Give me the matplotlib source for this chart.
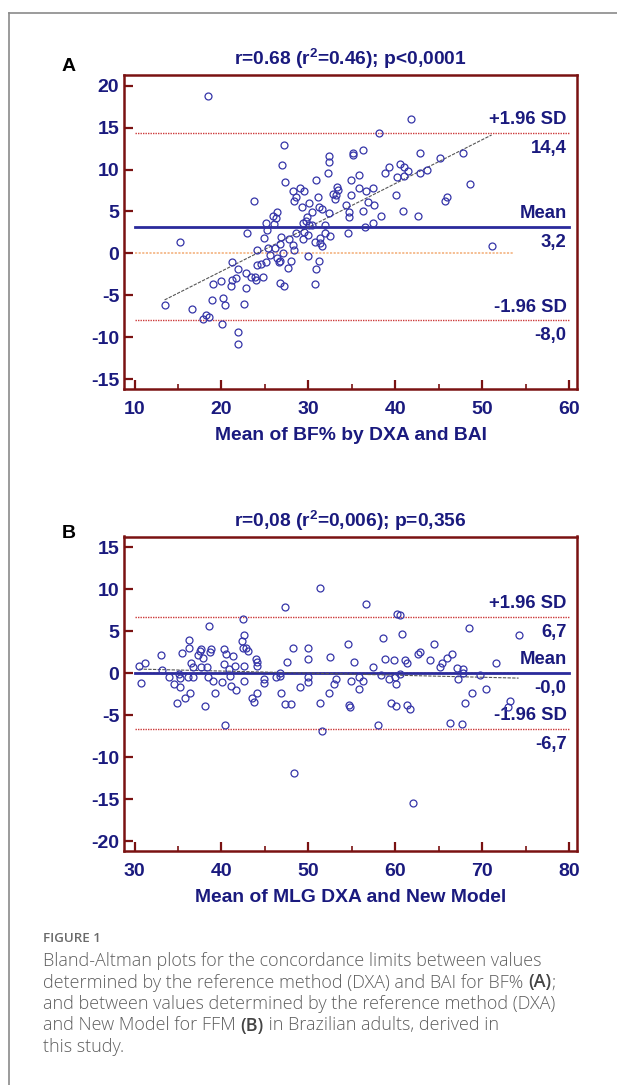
import matplotlib
matplotlib.use("Agg")
import matplotlib.pyplot as plt
import numpy as np
from matplotlib.lines import Line2D

plt.rcParams["axes.unicode_minus"] = False

# ---------------- data ----------------
# Panel A: mean of BF% (x) vs difference (y)
a_x = [18.44, 15.25, 13.46, 16.65, 17.86, 18.25, 18.56, 20.12, 21.91, 21.91, 22.65, 20.23, 20.39,
       18.91, 19.07, 20.0, 21.17, 21.17, 21.09, 21.67, 21.95, 22.84, 22.80, 22.92, 23.35, 23.85,
       23.93, 23.70, 24.12, 24.12, 24.51, 24.79, 25.10, 24.86, 25.18, 25.21, 25.33, 25.56, 25.95,
       26.07, 26.26, 26.38, 26.11, 26.42, 26.61, 26.73, 26.69, 26.89, 27.04, 26.73, 27.24, 26.96,
       27.24, 27.35, 27.70, 27.98, 27.74, 28.29, 28.37, 28.29, 28.56, 28.40, 28.56, 28.99, 29.46,
       29.30, 29.34, 29.53, 29.42, 29.69, 29.88, 30.04, 29.96, 30.08, 29.96, 30.39, 30.43, 30.74,
       30.78, 30.90, 30.93, 31.13, 31.21, 31.28, 31.32, 31.40, 31.52, 31.60, 31.91, 31.91, 32.22,
       32.33, 32.33, 32.41, 32.49, 32.80, 33.07, 33.19, 33.27, 33.42, 34.32, 34.63, 34.67, 34.59,
       34.86, 34.86, 35.18, 35.18, 35.84, 35.80, 36.35, 36.30, 36.58, 36.65, 36.89, 37.43, 37.55,
       37.47, 38.33, 38.09, 38.83, 39.30, 40.12, 40.19, 40.51, 40.86, 41.05, 41.05, 41.44, 41.83,
       42.57, 42.80, 42.80, 43.70, 45.14, 45.76, 45.91, 47.82, 48.56, 51.09]
a_y = [18.77, 1.34, -6.21, -6.61, -7.80, -7.37, -7.65, -8.40, -9.36, -10.87, -6.05, -5.30, -6.21,
       -5.54, -3.63, -3.27, -1.08, -3.19, -3.87, -2.95, -1.92, -2.40, -4.14, 2.38, -2.87, -2.83,
       -3.19, 6.20, 0.43, -1.44, -1.32, -2.87, -1.08, 1.78, 3.61, 2.74, 0.67, -0.21, 4.41,
       3.53, 4.25, 4.96, 0.59, -0.53, -1.00, -0.88, 1.15, 1.90, -0.01, -3.51, -3.87, 10.57,
       12.96, 8.50, -1.72, -0.88, 1.74, 1.03, 0.39, 7.47, 6.75, 6.28, 2.46, 7.75, 7.47,
       5.56, 3.65, 2.54, 1.66, 3.89, 4.33, 6.04, 2.18, 3.37, -0.37, 4.88, 3.33, 1.30,
       -3.71, -1.92, 8.74, 6.75, 5.56, -0.96, 1.23, 1.82, 0.83, 5.32, 3.41, 2.46, 9.62,
       11.61, 10.89, 4.84, 2.02, 7.03, 6.52, 6.95, 7.95, 7.59, 5.80, 4.88, 4.33, 2.46,
       8.74, 6.91, 12.00, 11.77, 9.34, 7.83, 12.28, 5.04, 3.09, 7.39, 6.08, 7.83, 5.76,
       3.61, 4.45, 14.35, 9.62, 10.25, 6.95, 9.14, 10.65, 5.04, 10.33, 9.22, 9.86, 16.02,
       4.45, 12.00, 9.62, 9.94, 11.33, 6.28, 6.75, 11.93, 8.31, 0.91]
a_mean, a_upper, a_lower = 3.2, 14.4, -8.0
a_labels = ["14,4", "3,2", "-8,0"]
a_reg = (-12.60, 0.523)          # intercept, slope of regression line
a_zero_end = 53.5
a_title = "r=0.68 (r$^{\\mathbf{2}}$=0.46); p<0,0001"
a_xlabel = "Mean of BF% by DXA and BAI"
a_xticks = [10, 20, 30, 40, 50, 60]
a_yticks = [-15, -10, -5, 0, 5, 10, 15, 20]

# Panel B: mean of MLG (x) vs difference (y)
b_x = [30.51, 30.70, 31.25, 33.04, 33.15, 33.97, 34.59, 34.86, 35.10, 35.25, 35.25, 35.49, 35.84,
       36.19, 36.30, 36.30, 36.38, 36.54, 36.69, 36.77, 37.28, 37.51, 37.70, 37.70, 37.86, 38.09,
       38.33, 38.44, 38.60, 38.75, 38.72, 39.07, 39.30, 40.12, 40.35, 40.35, 40.58, 40.47, 40.89,
       41.01, 41.05, 41.32, 41.60, 41.67, 42.37, 42.45, 42.57, 42.57, 42.45, 42.84, 43.04, 42.65,
       43.54, 43.77, 43.97, 44.12, 44.12, 44.05, 44.94, 44.94, 46.23, 46.69, 46.77, 46.85, 47.35,
       47.35, 47.51, 47.98, 48.25, 48.40, 49.07, 50.00, 49.96, 50.00, 50.00, 51.40, 51.40, 51.60,
       52.41, 52.49, 52.92, 53.19, 54.55, 54.71, 54.79, 54.90, 55.21, 55.80, 55.80, 56.30, 56.61,
       57.43, 57.98, 58.40, 58.56, 58.79, 59.30, 59.49, 59.84, 59.96, 60.04, 60.12, 60.23, 60.54,
       60.54, 60.74, 61.13, 61.36, 61.40, 61.67, 62.10, 62.57, 62.80, 64.01, 64.47, 65.10, 65.41,
       65.99, 66.50, 66.34, 67.16, 67.28, 67.67, 67.78, 67.82, 68.05, 68.52, 68.87, 69.81, 70.43,
       71.63, 73.00, 73.19, 74.20]
b_y = [0.78, -1.17, 1.18, 2.18, 0.34, -0.49, -1.33, -3.60, -0.17, -0.61, -1.61, 2.34, -2.96,
       -0.53, 3.93, 2.97, -2.44, 1.18, -0.49, 0.70, 2.14, 2.57, 2.85, 0.70, 1.82, -3.88,
       0.66, -0.45, 5.64, 2.85, 2.46, -0.93, -2.44, -1.13, 2.85, 1.10, 2.30, -6.15, 0.46,
       -0.41, -1.49, 2.02, 0.86, -2.05, 3.85, 6.48, 4.57, 0.86, 3.01, 3.01, 2.65, -0.97,
       -2.92, -3.40, 1.66, 1.30, 0.86, -2.40, -0.69, -1.21, -0.53, -0.03, -0.41, -2.36, 7.83,
       -3.64, 1.26, -3.72, 2.93, -11.96, -1.61, 2.97, 1.70, -0.45, -1.09, 10.14, -3.52, -6.86,
       -2.36, 1.86, -1.25, -0.77, 3.45, -3.84, -4.04, -0.97, 1.30, -1.93, -0.45, -0.93, 8.23,
       0.66, -6.15, -0.21, 4.13, 1.66, -0.77, -3.60, 1.58, -0.49, -3.96, -1.29, 6.99, 6.92,
       -0.13, 4.61, 1.58, -3.84, 1.14, -4.24, -15.51, 2.26, 2.46, 1.58, 3.45, 0.66, 1.22,
       1.74, 2.26, -5.99, 0.58, -0.69, -6.03, 0.42, -0.05, -3.60, 5.36, -2.40, -0.29, -1.93,
       1.18, -4.04, -3.28, 4.49]
b_mean, b_upper, b_lower = 0.0, 6.7, -6.7
b_labels = ["6,7", "-0,0", "-6,7"]
b_reg = (1.217, -0.0246)
b_zero_end = 74.5
b_title = "r=0,08 (r$^{\\mathbf{2}}$=0,006); p=0,356"
b_xlabel = "Mean of MLG DXA and New Model"
b_xticks = [30, 40, 50, 60, 70, 80]
b_yticks = [-20, -15, -10, -5, 0, 5, 10, 15]

caption_head = "FIGURE 1"
caption_lines = [
    [("Bland-Altman plots for the concordance limits between values", False)],
    [("determined by the reference method (DXA) and BAI for BF% ", False), ("(A)", True), (";", False)],
    [("and between values determined by the reference method (DXA)", False)],
    [("and New Model for FFM ", False), ("(B)", True), (" in Brazilian adults, derived in", False)],
    [("this study.", False)],
]

# ---------------- style ----------------
NAVY = "#1a1a7e"
MARK = "#3535a8"
SPINE = "#7a1212"
SDRED = "#cc3a3a"
ZERO = "#f5b98a"
FONT = "Liberation Sans"
plt.rcParams["mathtext.fontset"] = "custom"
plt.rcParams["mathtext.bf"] = "Liberation Sans:bold"
plt.rcParams["mathtext.rm"] = "Liberation Sans"

W, H = 617, 1085
fig = plt.figure(figsize=(W / 100, H / 100), dpi=100)
fig.patch.set_facecolor("white")

# figure frame lines (left and top)
fig.add_artist(Line2D([9 / W, 9 / W], [0, 1 - 12.7 / H], transform=fig.transFigure,
                      color="#8a8a8a", lw=1.2))
fig.add_artist(Line2D([9 / W, 1], [1 - 12.7 / H, 1 - 12.7 / H], transform=fig.transFigure,
                      color="#8a8a8a", lw=1.2))

TICKFS = 14
LABFS = 13.3


def panel(top_px, bot_px, xs, ys, xlim, ylim, xticks, yticks, minor_step,
          mean, upper, lower, labels, reg, zero_end, title, xlabel, letter, letter_y):
    ax = fig.add_axes([124 / W, 1 - bot_px / H, 453 / W, (bot_px - top_px) / H])
    ax.set_xlim(*xlim)
    ax.set_ylim(*ylim)
    for s in ax.spines.values():
        s.set_color(SPINE)
        s.set_linewidth(1.8)
    ax.set_xticks(xticks)
    ax.set_yticks(yticks)
    ax.set_xticks(np.arange(xticks[0] + minor_step, xticks[-1], minor_step * 2), minor=True)
    ax.tick_params(axis="both", which="major", direction="in", length=6.2, width=1.6,
                   color=SPINE, labelsize=TICKFS, labelcolor=NAVY)
    ax.tick_params(axis="x", which="minor", direction="in", length=3.5, width=1.2, color=SPINE)
    ax.tick_params(axis="x", which="major", pad=9)
    ax.tick_params(axis="y", which="major", pad=3.5)
    for lab in ax.get_xticklabels() + ax.get_yticklabels():
        lab.set_fontfamily(FONT)
        lab.set_fontweight("bold")

    x0, x1 = xticks[0], xticks[-1]
    # zero line
    ax.plot([x0, zero_end], [0, 0], color=ZERO, lw=1.3, ls=(0, (1.2, 0.8)), zorder=1)
    # SD lines
    ax.plot([x0, x1], [upper, upper], color=SDRED, lw=1.0, ls=(0, (1, 0.8)), zorder=1)
    ax.plot([x0, x1], [lower, lower], color=SDRED, lw=1.0, ls=(0, (1, 0.8)), zorder=1)
    # mean line
    ax.plot([x0, x1], [mean, mean], color="#2a2a9c", lw=2.0, zorder=2)
    # regression line
    xr = np.array([min(xs), max(xs)])
    ax.plot(xr, reg[0] + reg[1] * xr, color="#555555", lw=0.8, ls=(0, (3, 1.2)), zorder=3)
    # points
    ax.plot(xs, ys, ls="none", marker="o", ms=5.0, mfc="none", mec=MARK, mew=0.9, zorder=4)

    # labels at right
    tx = 0.977
    tr = ax.get_yaxis_transform()
    for val, head, num in [(upper, "+1.96 SD", labels[0]), (mean, "Mean", labels[1]),
                           (lower, "-1.96 SD", labels[2])]:
        ax.annotate(head, xy=(tx, val), xycoords=tr, xytext=(0, 9.6), textcoords="offset points",
                    ha="right", va="center", color=NAVY, fontsize=LABFS, fontweight="bold",
                    fontfamily=FONT)
        ax.annotate(num, xy=(tx, val), xycoords=tr, xytext=(0, -11.2), textcoords="offset points",
                    ha="right", va="center", color=NAVY, fontsize=LABFS, fontweight="bold",
                    fontfamily=FONT)

    hgt = bot_px - top_px
    ax.text(0.5, 1 + 16.2 / hgt, title, transform=ax.transAxes, ha="center", va="center",
            color=NAVY, fontsize=13.8, fontweight="bold", fontfamily=FONT)
    ax.text(0.5, -47.0 / hgt, xlabel, transform=ax.transAxes, ha="center", va="center",
            color=NAVY, fontsize=13.9, fontweight="bold", fontfamily=FONT)
    fig.text(68.6 / W, 1 - letter_y / H, letter, ha="center", va="center", color="black",
             fontsize=14, fontweight="bold", fontfamily=FONT)
    return ax


panel(75, 388.5, a_x, a_y, (8.79, 60.92), (-16.13, 21.28), a_xticks, a_yticks, 5,
      a_mean, a_upper, a_lower, a_labels, a_reg, a_zero_end, a_title, a_xlabel, "A", 66.4)
panel(536.5, 850.5, b_x, b_y, (28.79, 80.92), (-21.13, 16.25), b_xticks, b_yticks, 5,
      b_mean, b_upper, b_lower, b_labels, b_reg, b_zero_end, b_title, b_xlabel, "B", 534)

# ---------------- caption ----------------
CAPF = "Open Sans"
CAPC = "#5e5e5e"
CAPX = 43.0
fig.text(CAPX / W, 1 - 942.5 / H, caption_head, ha="left", va="baseline", color="#6a6a6a",
         fontsize=9.6, fontfamily=CAPF, fontweight="semibold")
fig.canvas.draw()
renderer = fig.canvas.get_renderer()
line_centers = [961, 982, 1003.5, 1025, 1047]
for segs, cy in zip(caption_lines, line_centers):
    xpx = CAPX
    base = 1 - (cy + 5.5) / H
    for txt, bold in segs:
        t = fig.text(xpx / W, base, txt, ha="left", va="baseline",
                     color="#444444" if bold else CAPC,
                     fontsize=13.0, fontfamily=CAPF,
                     fontweight="semibold" if bold else "light")
        bb = t.get_window_extent(renderer=renderer)
        xpx += bb.width

fig.savefig("out.png", dpi=100, facecolor="white")
